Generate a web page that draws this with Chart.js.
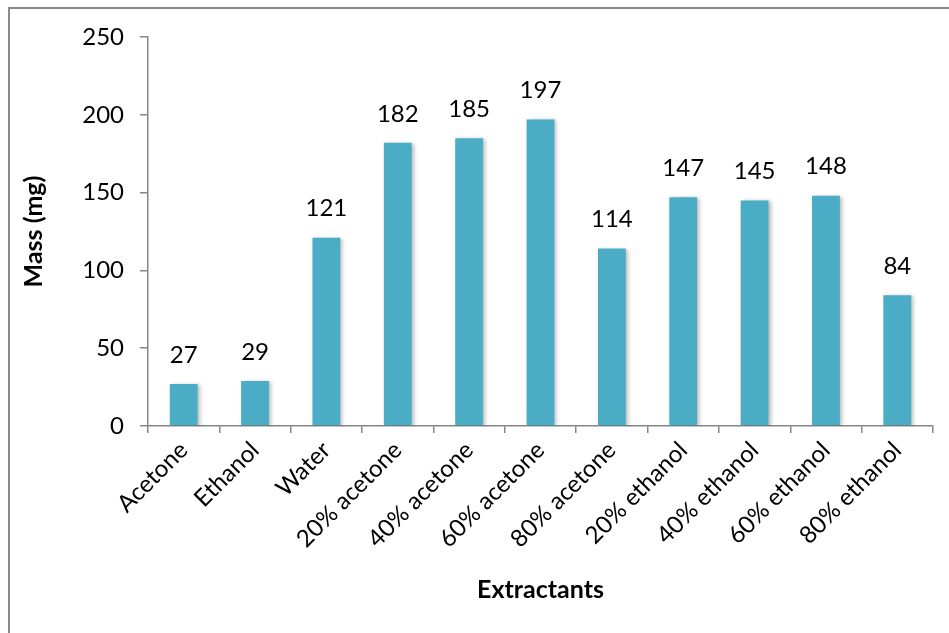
<!DOCTYPE html>
<html>
<head>
<meta charset="utf-8">
<script src="https://cdn.jsdelivr.net/npm/chart.js@4.4.0/dist/chart.umd.min.js"></script>
<style>
  html, body { margin: 0; padding: 0; background: #fff; }
  #wrap { position: relative; width: 949px; height: 633px; overflow: hidden; }
  /* outer chart frame, only top and left edges are visible */
  #frame { position: absolute; left: 8px; top: 7px; width: 960px; height: 660px; border: 2px solid #8a8a8a; box-sizing: border-box; }
  #chart { position: absolute; left: 0; top: 0; }
</style>
</head>
<body>
<div id="wrap">
  <div id="frame"></div>
  <canvas id="chart" width="949" height="633"></canvas>
</div>
<script>
// Extract yield per solvent system
var extractants = ['Acetone', 'Ethanol', 'Water', '20% acetone', '40% acetone', '60% acetone',
                   '80% acetone', '20% ethanol', '40% ethanol', '60% ethanol', '80% ethanol'];
var massMg = [27, 29, 121, 182, 185, 197, 114, 147, 145, 148, 84];
var yTicks = [0, 50, 100, 150, 200, 250];

var FONT = 'Lato, "Open Sans", sans-serif';
var axisGray = '#868686';

// soft drop shadow behind the bars
var barShadow = {
    id: 'barShadow',
    beforeDatasetsDraw: function(chart) {
        var ctx = chart.ctx;
        ctx.save();
        ctx.shadowColor = 'rgba(0,0,0,0.28)';
        ctx.shadowBlur = 4;
        ctx.shadowOffsetX = 2;
        ctx.shadowOffsetY = 1;
    },
    afterDatasetsDraw: function(chart) {
        chart.ctx.restore();
    }
};

// value printed above each bar
var valueLabels = {
    id: 'valueLabels',
    afterDatasetsDraw: function(chart) {
        var ctx = chart.ctx;
        var meta = chart.getDatasetMeta(0);
        ctx.save();
        ctx.font = '24px ' + FONT;
        ctx.fillStyle = '#000';
        ctx.textAlign = 'center';
        ctx.textBaseline = 'middle';
        meta.data.forEach(function(bar, i) {
            ctx.fillText(String(massMg[i]), bar.x, bar.y - 29);
        });
        ctx.restore();
    }
};

var ctx = document.getElementById('chart').getContext('2d');
var myChart = new Chart(ctx, {
    type: 'bar',
    data: {
        labels: extractants,
        datasets: [{
            data: massMg,
            backgroundColor: '#4BACC6',
            borderWidth: 0,
            barPercentage: 0.39,
            categoryPercentage: 1.0
        }]
    },
    options: {
        responsive: false,
        animation: false,
        layout: { padding: { left: 0, top: 37, right: 16, bottom: 0 } },
        plugins: {
            legend: { display: false },
            tooltip: { enabled: false }
        },
        scales: {
            x: {
                grid: {
                    display: true,
                    drawOnChartArea: false,
                    tickLength: 7,
                    color: axisGray,
                    lineWidth: 1.5
                },
                border: { color: axisGray, width: 1.5 },
                ticks: {
                    color: '#000',
                    font: { family: FONT, size: 24 },
                    minRotation: 45,
                    maxRotation: 45,
                    padding: 3
                },
                title: {
                    display: true,
                    text: 'Extractants',
                    color: '#000',
                    font: { family: FONT, size: 25, weight: 'bold' },
                    padding: { top: 0, bottom: 28 }
                },
                afterFit: function(scale) { scale.height = 207; }
            },
            y: {
                min: 0,
                max: 250,
                afterBuildTicks: function(scale) {
                    scale.ticks = yTicks.map(function(v) { return { value: v }; });
                },
                grid: {
                    display: true,
                    drawOnChartArea: false,
                    tickLength: 8,
                    color: axisGray,
                    lineWidth: 1.5
                },
                border: { color: axisGray, width: 1.5 },
                ticks: {
                    color: '#000',
                    font: { family: FONT, size: 24 },
                    padding: 16
                },
                title: {
                    display: true,
                    text: 'Mass (mg)',
                    color: '#000',
                    font: { family: FONT, size: 25, weight: 'bold' },
                    padding: { top: 19, bottom: 0 }
                },
                afterFit: function(scale) { scale.width = 148; }
            }
        }
    },
    plugins: [barShadow, valueLabels]
});
</script>
</body>
</html>
